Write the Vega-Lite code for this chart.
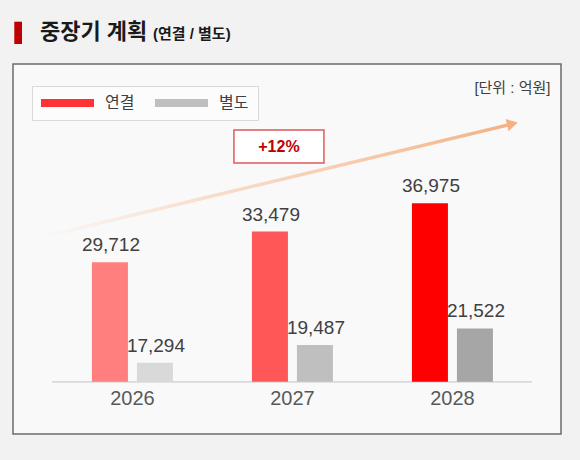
{
  "$schema": "https://vega.github.io/schema/vega-lite/v6.json",
  "autosize": {"type": "none"},
  "padding": {"left": 13, "top": 64, "right": 19, "bottom": 26},
  "width": 548,
  "height": 370,
  "background": "#f2f2f2",
  "data": {
    "values": [
      {"year": "2026", "type": "연결", "value": 29712},
      {"year": "2026", "type": "별도", "value": 17294},
      {"year": "2027", "type": "연결", "value": 33479},
      {"year": "2027", "type": "별도", "value": 19487},
      {"year": "2028", "type": "연결", "value": 36975},
      {"year": "2028", "type": "별도", "value": 21522}
    ]
  },
  "encoding": {
    "x": {
      "field": "year",
      "type": "nominal",
      "title": null,
      "scale": {"paddingInner": 0.49375, "paddingOuter": 0.459375, "align": 0.537},
      "axis": {
        "orient": "bottom",
        "offset": -52.3,
        "domain": false,
        "ticks": false,
        "grid": false,
        "labelAngle": 0,
        "labelFontSize": 20,
        "labelColor": "#595959",
        "labelPadding": 7
      }
    }
  },
  "layer": [
    {
      "mark": {"type": "rule", "color": "#d9d9d9", "strokeWidth": 1, "xOffset": -80, "x2Offset": 79.5},
      "encoding": {
        "x": {"datum": "2026"},
        "x2": {"datum": "2028"},
        "y": {"datum": 14950, "type": "quantitative", "scale": {"domain": [8493, 54172], "zero": false, "nice": false}, "axis": null}
      }
    },
    {
      "transform": [{"calculate": "datum.type + '-' + datum.year", "as": "key"}],
      "mark": {"type": "bar"},
      "encoding": {
        "xOffset": {"field": "type", "type": "nominal", "sort": ["연결", "별도"], "scale": {"paddingInner": 0.2, "paddingOuter": 0}},
        "y": {"field": "value", "type": "quantitative"},
        "y2": {"datum": 14950},
        "color": {
          "field": "key",
          "type": "nominal",
          "scale": {
            "domain": ["연결", "별도", "연결-2026", "연결-2027", "연결-2028", "별도-2026", "별도-2027", "별도-2028"],
            "range": ["#ff3333", "#bfbfbf", "#ff7f7f", "#ff5757", "#ff0000", "#d9d9d9", "#bfbfbf", "#a6a6a6"]
          },
          "legend": {
            "values": ["연결", "별도"],
            "title": null,
            "orient": "none",
            "legendX": 19,
            "legendY": 22,
            "direction": "horizontal",
            "symbolType": "M-2,-1H11.25V1H-2Z",
            "symbolSize": 64,
            "symbolStrokeWidth": 0,
            "symbolOpacity": 1,
            "labelFontSize": 16,
            "labelColor": "#404040",
            "labelOffset": 48,
            "columnPadding": 20,
            "padding": 9,
            "strokeColor": "#d9d9d9",
            "fillColor": "#fcfcfc"
          }
        }
      }
    },
    {
      "mark": {"type": "text", "baseline": "bottom", "dy": -7, "dx": 1, "fontSize": 19, "color": "#404040"},
      "encoding": {
        "xOffset": {"field": "type", "type": "nominal", "sort": ["연결", "별도"]},
        "y": {"field": "value", "type": "quantitative"},
        "text": {"field": "value", "type": "quantitative", "format": ","}
      }
    },
    {
      "data": {"values": [{}]},
      "mark": {
        "type": "rule",
        "strokeWidth": 3.5,
        "xOffset": -92.5,
        "x2Offset": 59.7,
        "stroke": {
          "gradient": "linear",
          "x1": 0, "y1": 0, "x2": 1, "y2": 0,
          "stops": [
            {"offset": 0, "color": "rgba(248,203,173,0)"},
            {"offset": 0.35, "color": "rgba(248,203,173,0.6)"},
            {"offset": 1, "color": "#f4b183"}
          ]
        }
      },
      "encoding": {
        "x": {"datum": "2026"},
        "x2": {"datum": "2028"},
        "y": {"datum": 32752, "type": "quantitative"},
        "y2": {"datum": 46765}
      }
    },
    {
      "data": {"values": [{}]},
      "mark": {"type": "point", "shape": "triangle-right", "filled": true, "size": 160, "angle": -13.6, "color": "#f4b183", "opacity": 1, "xOffset": 60},
      "encoding": {
        "x": {"datum": "2028"},
        "y": {"datum": 46777, "type": "quantitative"}
      }
    },
    {
      "data": {"values": [{}]},
      "mark": {"type": "point", "shape": "M-1,-0.367H1V0.367H-1Z", "filled": false, "size": 8100, "fill": "#ffffff", "fillOpacity": 1, "stroke": "#e05a5a", "strokeWidth": 1.5, "opacity": 1, "xOffset": -13.5},
      "encoding": {
        "x": {"datum": "2027"},
        "y": {"datum": 43987, "type": "quantitative"}
      }
    },
    {
      "data": {"values": [{}]},
      "mark": {"type": "text", "text": "+12%", "fontSize": 16, "fontWeight": "bold", "color": "#c00000", "baseline": "middle", "align": "center", "dx": -13.5},
      "encoding": {
        "x": {"datum": "2027"},
        "y": {"datum": 43925, "type": "quantitative"}
      }
    },
    {
      "data": {"values": [{}]},
      "mark": {"type": "point", "shape": "M-0.345,-1H0.345V1H-0.345Z", "filled": true, "size": 497, "color": "#c00000", "opacity": 1, "xOffset": -114.3},
      "encoding": {
        "x": {"datum": "2026"},
        "y": {"datum": 58018, "type": "quantitative"}
      }
    },
    {
      "data": {"values": [{}]},
      "mark": {"type": "text", "text": "중장기 계획", "fontSize": 22, "fontWeight": "bold", "color": "#1a1a1a", "baseline": "middle", "align": "left", "dx": -92.5},
      "encoding": {
        "x": {"datum": "2026"},
        "y": {"datum": 58123, "type": "quantitative"}
      }
    },
    {
      "data": {"values": [{}]},
      "mark": {"type": "text", "text": "(연결 / 별도)", "fontSize": 15, "fontWeight": "bold", "color": "#1a1a1a", "baseline": "middle", "align": "left", "dx": 20.5},
      "encoding": {
        "x": {"datum": "2026"},
        "y": {"datum": 57814, "type": "quantitative"}
      }
    },
    {
      "data": {"values": [{}]},
      "mark": {"type": "text", "text": "[단위 : 억원]", "fontSize": 15, "color": "#404040", "baseline": "middle", "align": "right", "dx": 98},
      "encoding": {
        "x": {"datum": "2028"},
        "y": {"datum": 51209, "type": "quantitative"}
      }
    }
  ],
  "config": {
    "font": "Liberation Sans, Noto Sans CJK KR",
    "view": {"fill": "#f9f9f9", "stroke": "#6b6b6b", "strokeWidth": 1.5}
  }
}
